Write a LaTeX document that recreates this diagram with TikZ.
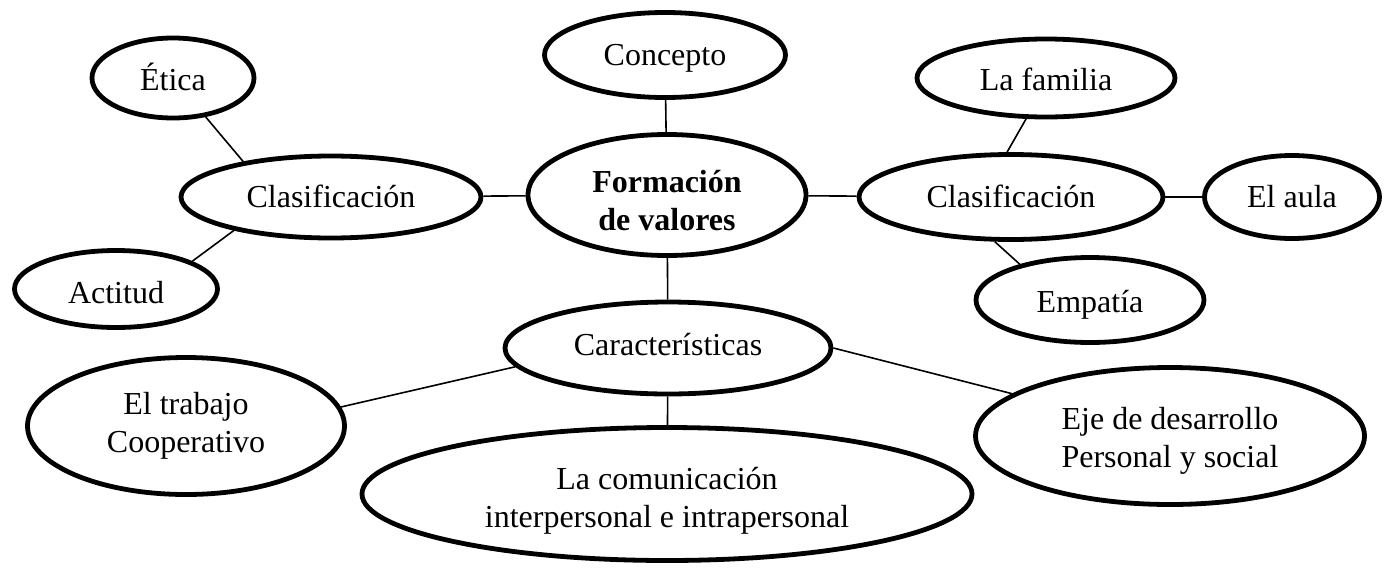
\documentclass[tikz,border=0pt]{standalone}
\usepackage{fontspec}
\setmainfont{Liberation Serif}
\usetikzlibrary{shapes.geometric}
\tikzset{
  bubble/.style={draw=black, ellipse, line width=4.8pt, inner sep=0pt, align=center,
    font=\fontsize{32}{38}\selectfont, text height=27pt, text depth=5pt},
  link/.style={draw=black, line width=1.6pt}
}
\begin{document}
\begin{tikzpicture}[x=1pt,y=-1pt]
\useasboundingbox[fill=white] (0,0) rectangle (1386,568);
\node[bubble, minimum width=241pt, minimum height=85pt, text height=25pt] (concepto) at (665,55) {Concepto};
\node[bubble, minimum width=278pt, minimum height=121pt, text height=75pt] (formacion) at (667,195) {\textbf{Formación}\\\textbf{de valores}};
\node[bubble, minimum width=162pt, minimum height=80pt, text height=29pt] (etica) at (173,78) {Ética};
\node[bubble, minimum width=300pt, minimum height=82pt, text height=25pt] (clasL) at (331,197) {Clasificación};
\node[bubble, minimum width=203pt, minimum height=77pt, text height=33pt] (actitud) at (116,289) {Actitud};
\node[bubble, minimum width=304pt, minimum height=85pt, text height=25pt] (clasR) at (1011,197) {Clasificación};
\node[bubble, minimum width=258pt, minimum height=78pt, text height=29pt] (familia) at (1046,78) {La familia};
\node[bubble, minimum width=175pt, minimum height=83pt, text height=25pt] (aula) at (1292,197) {El aula};
\node[bubble, minimum width=228pt, minimum height=85pt, text height=29pt] (empatia) at (1090,300) {Empatía};
\node[bubble, minimum width=326pt, minimum height=92pt, text height=19pt] (caract) at (668,348) {Características};
\node[bubble, minimum width=317pt, minimum height=137pt, text height=57pt] (trabajo) at (186,426) {El trabajo\\Cooperativo};
\node[bubble, minimum width=610pt, minimum height=133pt, text height=71pt] (comunic) at (667,494) {La comunicación\\interpersonal e intrapersonal};
\node[bubble, minimum width=389pt, minimum height=137pt, text height=67pt] (eje) at (1170,436) {Eje de desarrollo\\Personal y social};

\draw[link] (concepto) -- (formacion);
\draw[link] (etica.-50) -- (clasL.158);
\draw[link] (actitud.20) -- (clasL.-161);
\draw[link] (clasL) -- (formacion);
\draw[link] (formacion) -- (clasR);
\draw[link] (familia.244) -- (clasR.95);
\draw[link] (clasR) -- (aula);
\draw[link] (clasR.250) -- (empatia.153);
\draw[link] (formacion) -- (caract);
\draw[link] (caract.187) -- (trabajo.7.5);
\draw[link] (caract) -- (comunic);
\draw[link] (caract.east) -- (eje.165);
\end{tikzpicture}
\end{document}
